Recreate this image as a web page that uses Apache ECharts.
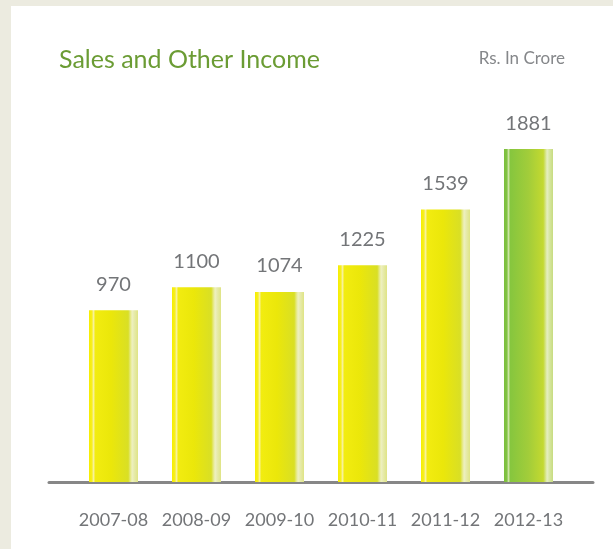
<!DOCTYPE html>
<html>
<head>
<meta charset="utf-8">
<script src="https://cdn.jsdelivr.net/npm/echarts@6/dist/echarts.min.js"></script>
<style>
html,body{margin:0;padding:0;background:#ecebe0;}
#chart{width:613px;height:549px;}
</style>
</head>
<body>
<div id="chart"></div>
<script>
const categories = ['2007-08','2008-09','2009-10','2010-11','2011-12','2012-13'];
const values = [970, 1100, 1074, 1225, 1539, 1881];
const titleText = 'Sales and Other Income';
const unitText = 'Rs. In Crore';

const font = 'Lato, "Open Sans", sans-serif';

function grad(stops){
  return new echarts.graphic.LinearGradient(0,0,1,0, stops.map(s=>({offset:s[0],color:s[1]})));
}
const yellow = grad([[0,'#f6ee00'],[0.06,'#f7ef20'],[0.09,'#f8f2a0'],[0.13,'#f2ec10'],[0.45,'#ebe70a'],[0.8,'#d9df25'],[0.84,'#e4e87a'],[0.88,'#eef0c0'],[0.93,'#e6eaa8'],[1,'#dfe485']]);
const green = grad([[0,'#7bbf3c'],[0.06,'#82c244'],[0.09,'#cfe6a8'],[0.13,'#86c63e'],[0.5,'#a2cd3a'],[0.8,'#c3d930'],[0.84,'#d2e278'],[0.88,'#e6efbf'],[0.93,'#d6e6a0'],[1,'#c7dc80']]);

const data = values.map((v,i)=>({
  value: v,
  itemStyle: { color: i === values.length-1 ? green : yellow }
}));

const chart = echarts.init(document.getElementById('chart'), null, {renderer:'canvas'});
chart.setOption({
  backgroundColor: 'transparent',
  animation: false,
  graphic: [
    { type:'rect', left:11, top:6, shape:{width:602, height:543}, style:{fill:'#ffffff'}, z:-10 }
  ],
  title: [
    { text: titleText, left: 54, top: 42, textStyle:{ fontFamily: font, fontSize: 25, fontWeight: 'normal', color:'#6b9c34' } },
    { text: unitText, right: 43, top: 45, textStyle:{ fontFamily: font, fontSize: 17, fontWeight: 'normal', color:'#85878a' } }
  ],
  grid: [
    { left: 72, right: 43, top: 128, bottom: 67 },
    { left: 49, right: 20, top: 128, bottom: 67 }
  ],
  xAxis: [
    { type:'category', gridIndex:0, data: categories,
      axisLine:{show:false}, axisTick:{show:false},
      axisLabel:{ interval: 0, fontFamily: font, fontSize: 18, color:'#737578', margin: 29 } },
    { type:'value', gridIndex:1, min:0, max:1,
      axisLine:{show:true, onZero:false, lineStyle:{color:'#878787', width:3}},
      axisTick:{show:false}, axisLabel:{show:false}, splitLine:{show:false} }
  ],
  yAxis: [
    { type:'value', gridIndex:0, min:0, max:2000, show:false, splitLine:{show:false} },
    { type:'value', gridIndex:1, min:0, max:1, show:false }
  ],
  series: [{
    type:'bar',
    xAxisIndex:0, yAxisIndex:0,
    data: data,
    barWidth: 49,
    label: { show:true, position:'top', distance: 16, fontFamily: font, fontSize: 20, color:'#737578' }
  }]
});
</script>
</body>
</html>
